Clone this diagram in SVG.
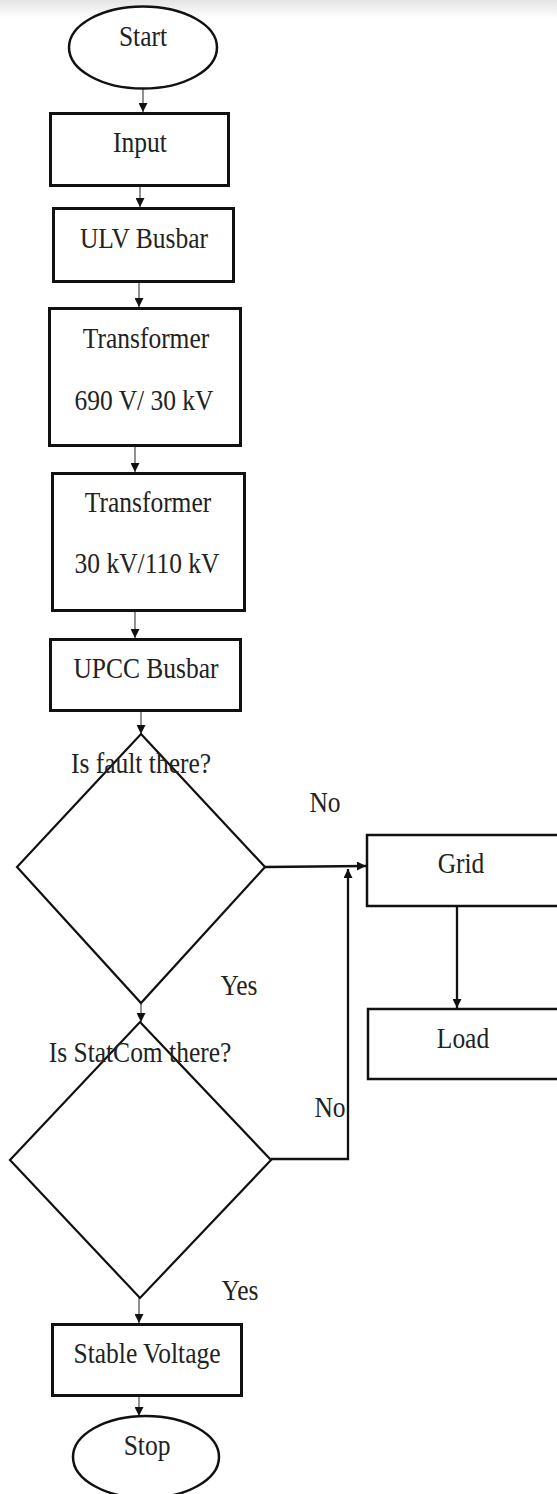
<svg xmlns="http://www.w3.org/2000/svg" width="557" height="1494" viewBox="0 0 557 1494">
<defs>
<linearGradient id="topband" x1="0" y1="0" x2="0" y2="1">
<stop offset="0" stop-color="#e4e4e4"/>
<stop offset="1" stop-color="#ffffff"/>
</linearGradient>
<marker id="arr" viewBox="0 0 10 10" refX="10" refY="5" markerWidth="11" markerHeight="9" markerUnits="userSpaceOnUse" orient="auto">
<path d="M0,0 L10,5 L0,10 z" fill="#111"/>
</marker>
</defs>
<style>
.box{fill:#fff;stroke:#111;stroke-width:3}
.dec{fill:none;stroke:#111;stroke-width:2.2}
.term{fill:#fff;stroke:#111;stroke-width:2.5}
.lbl{font-family:"Liberation Serif","Times New Roman",serif;font-size:30px;fill:#222;text-anchor:middle}
.thin{fill:none;stroke:#555;stroke-width:1.3}
.thick{fill:none;stroke:#111;stroke-width:2.3}
</style>
<rect x="0" y="0" width="557" height="18" fill="url(#topband)"/>

<g id="connectors">
<path class="thin" d="M143,89 V112" marker-end="url(#arr)"/>
<path class="thin" d="M140,187 V207" marker-end="url(#arr)"/>
<path class="thin" d="M139,283 V307" marker-end="url(#arr)"/>
<path class="thin" d="M135,447 V472" marker-end="url(#arr)"/>
<path class="thin" d="M135,612 V638" marker-end="url(#arr)"/>
<path class="thin" d="M141,712 V734" marker-end="url(#arr)"/>
<path class="thick" d="M265,867 L366,866" marker-end="url(#arr)"/>
<path class="thin" d="M141,1003 V1022" marker-end="url(#arr)"/>
<path class="thick" d="M271,1159 H348 V869" marker-end="url(#arr)"/>
<path class="thick" d="M457,907 V1008" marker-end="url(#arr)"/>
<path class="thin" d="M139,1298 V1323" marker-end="url(#arr)"/>
<path class="thin" d="M139,1397 V1416" marker-end="url(#arr)"/>
<text class="lbl" transform="translate(325,812) scale(0.85,1)">No</text>
<text class="lbl" transform="translate(239,995) scale(0.85,1)">Yes</text>
<text class="lbl" transform="translate(330,1117) scale(0.85,1)">No</text>
<text class="lbl" transform="translate(240,1300) scale(0.85,1)">Yes</text>
</g>

<g id="start">
<ellipse class="term" cx="143" cy="47.5" rx="74" ry="41"/>
<text class="lbl" transform="translate(143,46) scale(0.85,1)">Start</text>
</g>
<g id="input">
<rect class="box" x="50.5" y="113.5" width="178" height="72"/>
<text class="lbl" transform="translate(140,152) scale(0.85,1)">Input</text>
</g>
<g id="ulv">
<rect class="box" x="53.5" y="208.5" width="180" height="73"/>
<text class="lbl" transform="translate(144,248) scale(0.85,1)">ULV Busbar</text>
</g>
<g id="transformer1">
<rect class="box" x="49.5" y="308.5" width="191" height="137"/>
<text class="lbl" transform="translate(146,348) scale(0.85,1)">Transformer</text>
<text class="lbl" transform="translate(144,410) scale(0.85,1)">690 V/ 30 kV</text>
</g>
<g id="transformer2">
<rect class="box" x="52.5" y="473.5" width="192" height="137"/>
<text class="lbl" transform="translate(148,512) scale(0.85,1)">Transformer</text>
<text class="lbl" transform="translate(147,573) scale(0.85,1)">30 kV/110 kV</text>
</g>
<g id="upcc">
<rect class="box" x="50.5" y="639.5" width="190" height="71"/>
<text class="lbl" transform="translate(146,678) scale(0.85,1)">UPCC Busbar</text>
</g>
<g id="fault">
<polygon class="dec" points="141,734 265,867 141,1003 17,867"/>
<text class="lbl" transform="translate(141,773) scale(0.85,1)">Is fault there?</text>
</g>
<g id="grid">
<rect class="box" x="367" y="835" width="200" height="71" style="stroke-width:2.5"/>
<text class="lbl" transform="translate(461,873) scale(0.85,1)">Grid</text>
</g>
<g id="load">
<rect class="box" x="368" y="1009" width="200" height="70" style="stroke-width:2.5"/>
<text class="lbl" transform="translate(463,1048) scale(0.85,1)">Load</text>
</g>
<g id="statcom">
<polygon class="dec" points="140,1022 271,1160 140,1298 10,1160"/>
<text class="lbl" transform="translate(140,1062) scale(0.85,1)">Is StatCom there?</text>
</g>
<g id="stable">
<rect class="box" x="52.5" y="1324.5" width="189" height="71"/>
<text class="lbl" transform="translate(147,1363) scale(0.85,1)">Stable Voltage</text>
</g>
<g id="stop">
<ellipse class="term" cx="146" cy="1457" rx="73" ry="41"/>
<text class="lbl" transform="translate(147,1455) scale(0.85,1)">Stop</text>
</g>
</svg>
